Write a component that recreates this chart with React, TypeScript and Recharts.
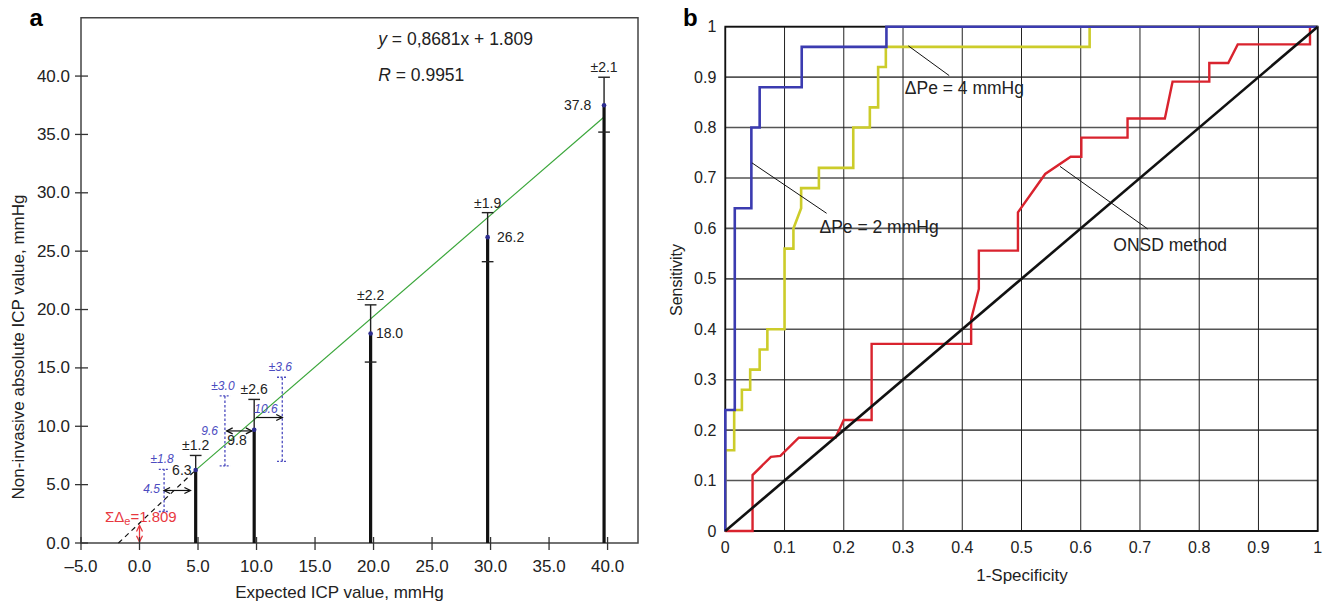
// Two-panel figure: (a) non-invasive vs expected ICP with error bars, (b) ROC curves.

import {
  ComposedChart,
  XAxis,
  YAxis,
  Line,
  Scatter,
  ReferenceArea,
  CartesianGrid,
} from 'recharts'

const FONT = '"Liberation Sans", Arial, Helvetica, sans-serif'

// ---------- panel a ----------
const xTicksA = [-5, 0, 5, 10, 15, 20, 25, 30, 35, 40]
const yTicksA = [0, 5, 10, 15, 20, 25, 30, 35, 40]

// measured ICP bars
const barX = [4.8, 9.8, 19.75, 29.75, 39.7]
const barMean = [6.25, 9.7, 17.95, 26.2, 37.5]
const barUpper = [7.5, 12.3, 20.4, 28.3, 39.9]
const barLower: (number | null)[] = [null, null, 15.5, 24.1, 35.2]
const barSdText = ['±1.2', '±2.6', '±2.2', '±1.9', '±2.1']
const barMeanText = ['6.3', '9.8', '18.0', '26.2', '37.8']
const barMeanTextX = [4.45, 8.33, 20.2, 30.55, 38.6]
const barMeanTextY = [6.25, 8.8, 17.95, 26.2, 37.5]

// estimated (blue dotted) bars
const estX = [2.1, 7.3, 12.2]
const estMean = [4.5, 9.6, 10.6]
const estSd = [1.8, 3.0, 3.6]
const estSdText = ['±1.8', '±3.0', '±3.6']
const estMeanText = ['4.5', '9.6', '10.6']
const estMeanTextX = [1.75, 6.7, 10.8]
const estMeanTextY = [4.6, 9.6, 11.5]

// horizontal shift arrows
const shiftFromX = [2.1, 7.45, 9.95]
const shiftToX = [4.35, 9.6, 12.2]
const shiftY = [4.5, 9.6, 10.75]
const shiftBothWays = [true, true, false]

// regression line and its dashed extension
const fitX = [4.75, 39.7]
const fitY = [6.2, 36.5]
const extX = [-1.8, 4.75]
const extY = [0, 6.2]
// red offset arrow at x = 0
const offsetY = [0.1, 1.5]

// ---------- panel b ----------
const rocTicks = [0, 0.1, 0.2, 0.3, 0.4, 0.5, 0.6, 0.7, 0.8, 0.9, 1]

const pe2X = [0, 0, 0.016, 0.016, 0.044, 0.044, 0.058, 0.058, 0.129, 0.129, 0.272, 0.272, 1]
const pe2Y = [0, 0.24, 0.24, 0.64, 0.64, 0.8, 0.8, 0.88, 0.88, 0.96, 0.96, 1, 1]

const pe4X = [
  0, 0, 0.015, 0.015, 0.028, 0.028, 0.042, 0.042, 0.058, 0.058, 0.071, 0.071, 0.1, 0.1, 0.115, 0.115,
  0.128, 0.128, 0.158, 0.158, 0.216, 0.216, 0.244, 0.244, 0.258, 0.258, 0.271, 0.271, 0.615, 0.615, 1,
]
const pe4Y = [
  0, 0.16, 0.16, 0.24, 0.24, 0.28, 0.28, 0.32, 0.32, 0.36, 0.36, 0.4, 0.4, 0.56, 0.56, 0.6,
  0.64, 0.68, 0.68, 0.72, 0.72, 0.8, 0.8, 0.84, 0.84, 0.92, 0.92, 0.96, 0.96, 1, 1,
]

const onsdX = [
  0, 0.046, 0.046, 0.077, 0.093, 0.124, 0.186, 0.2, 0.247, 0.247, 0.415, 0.415, 0.428, 0.428, 0.494,
  0.494, 0.54, 0.583, 0.601, 0.601, 0.679, 0.679, 0.742, 0.755, 0.817, 0.817, 0.849, 0.865, 0.987, 0.987,
]
const onsdY = [
  0, 0, 0.111, 0.147, 0.149, 0.185, 0.185, 0.22, 0.22, 0.371, 0.371, 0.42, 0.48, 0.556, 0.556,
  0.632, 0.708, 0.742, 0.742, 0.78, 0.78, 0.818, 0.818, 0.891, 0.891, 0.928, 0.928, 0.965, 0.965, 1,
]

const chanceX = [0, 1]
const chanceY = [0, 1]

const rocLabels = ['ΔPe = 4 mmHg', 'ΔPe = 2 mmHg', 'ONSD method']
const rocLabelX = [0.303, 0.159, 0.655]
const rocLabelY = [0.878, 0.602, 0.568]
const leaderX1 = [0.309, 0.045, 0.565]
const leaderY1 = [0.962, 0.73, 0.723]
const leaderX2 = [0.378, 0.171, 0.713]
const leaderY2 = [0.903, 0.63, 0.599]

// ---------- helpers ----------
type Pt = { x: number; y: number }
const seg = (x1: number, y1: number, x2: number, y2: number): Pt[] => [
  { x: x1, y: y1 },
  { x: x2, y: y2 },
]
const zip = (xs: number[], ys: number[]): Pt[] => xs.map((x, i) => ({ x, y: ys[i] }))

const segLine = (key: string, pts: Pt[], stroke: string, width: number, dash?: string) => (
  <Line
    key={key}
    data={pts}
    dataKey="y"
    type="linear"
    stroke={stroke}
    strokeWidth={width}
    strokeDasharray={dash}
    dot={false}
    activeDot={false}
    isAnimationActive={false}
    legendType="none"
  />
)

type TxtStyle = {
  anchor?: 'start' | 'middle' | 'end'
  dx?: number
  dy?: number
  size?: number
  color?: string
  italic?: boolean
}

const textMark = (key: string, x: number, y: number, text: string, s: TxtStyle) => (
  <Scatter
    key={key}
    data={[{ x, y }]}
    dataKey="y"
    isAnimationActive={false}
    legendType="none"
    shape={(p: any) => (
      <text
        x={p.cx + (s.dx ?? 0)}
        y={p.cy + (s.dy ?? 0)}
        textAnchor={s.anchor ?? 'middle'}
        dominantBaseline="central"
        fontSize={s.size ?? 14}
        fill={s.color ?? '#222'}
        fontStyle={s.italic ? 'italic' : 'normal'}
      >
        {text}
      </text>
    )}
  />
)

const arrowMark = (key: string, pts: Pt[], dir: 'left' | 'right' | 'up' | 'down', color: string) => (
  <Scatter
    key={key}
    data={pts}
    dataKey="y"
    isAnimationActive={false}
    legendType="none"
    shape={(p: any) => {
      const { cx, cy } = p
      const d =
        dir === 'right'
          ? `M${cx - 6},${cy - 3} L${cx},${cy} L${cx - 6},${cy + 3}`
          : dir === 'left'
            ? `M${cx + 6},${cy - 3} L${cx},${cy} L${cx + 6},${cy + 3}`
            : dir === 'up'
              ? `M${cx - 3},${cy + 6} L${cx},${cy} L${cx + 3},${cy + 6}`
              : `M${cx - 3},${cy - 6} L${cx},${cy} L${cx + 3},${cy - 6}`
      return <path d={d} fill="none" stroke={color} strokeWidth={1.3} />
    }}
  />
)

const fmtA = (v: number) => (v < 0 ? '–' + Math.abs(v).toFixed(1) : v.toFixed(1))
const fmtB = (v: number) => (v === 0 ? '0' : v === 1 ? '1' : v.toFixed(1))

const XTickA = (p: any) => (
  <g>
    <line x1={p.x} x2={p.x} y1={p.y - 6} y2={p.y + 7} stroke="#333" strokeWidth={1.3} />
    <text x={p.x} y={p.y + 23} textAnchor="middle" dominantBaseline="central" fontSize={17} fill="#222">
      {fmtA(p.payload.value)}
    </text>
  </g>
)
const YTickA = (p: any) => (
  <g>
    <line x1={p.x - 6} x2={p.x + 7} y1={p.y} y2={p.y} stroke="#333" strokeWidth={1.3} />
    <text x={p.x - 11} y={p.y} textAnchor="end" dominantBaseline="central" fontSize={17} fill="#222">
      {fmtA(p.payload.value)}
    </text>
  </g>
)
const XTickB = (p: any) => (
  <text x={p.x} y={p.y + 16} textAnchor="middle" dominantBaseline="central" fontSize={16} fill="#222">
    {fmtB(p.payload.value)}
  </text>
)
const YTickB = (p: any) => (
  <text x={p.x - 9} y={p.y} textAnchor="end" dominantBaseline="central" fontSize={16} fill="#222">
    {fmtB(p.payload.value)}
  </text>
)

const BLUE_EST = '#4b4bbf'
const RED = '#e8383f'

function PanelA() {
  const meanAnchor: ('start' | 'middle' | 'end')[] = ['end', 'middle', 'start', 'start', 'end']
  return (
    <ComposedChart width={660} height={602} margin={{ top: 17.7, right: 22, bottom: 29, left: 10 }}>
      <XAxis
        type="number"
        dataKey="x"
        domain={[-5, 42.6]}
        ticks={xTicksA}
        interval={0}
        axisLine={false}
        tickLine={false}
        tickSize={0}
        tickMargin={0}
        height={30}
        tick={(p: any) => <XTickA {...p} />}
      />
      <YAxis
        type="number"
        dataKey="y"
        domain={[0, 45]}
        ticks={yTicksA}
        interval={0}
        axisLine={false}
        tickLine={false}
        tickSize={0}
        tickMargin={0}
        width={71}
        tick={(p: any) => <YTickA {...p} />}
      />
      <ReferenceArea x1={-5} x2={42.6} y1={0} y2={45} fill="none" stroke="#444" strokeWidth={1.5} />

      {segLine('ext', zip(extX, extY), '#111', 1.2, '5 4')}
      {segLine('fit', zip(fitX, fitY), '#3aa63a', 1.2)}

      {barX.map((x, i) => segLine(`bar${i}`, seg(x, 0, x, barMean[i]), '#111', 3.2))}
      {barX.map((x, i) => segLine(`sd${i}`, seg(x, barMean[i], x, barUpper[i]), '#222', 1.4))}
      {barX.map((x, i) => segLine(`cap${i}`, seg(x - 0.5, barUpper[i], x + 0.5, barUpper[i]), '#222', 1.4))}
      {barX.map((x, i) => {
        const lo = barLower[i]
        return lo === null ? null : segLine(`lo${i}`, seg(x - 0.5, lo, x + 0.5, lo), '#222', 1.4)
      })}

      {estX.map((x, i) =>
        segLine(`est${i}`, seg(x, estMean[i] - estSd[i], x, estMean[i] + estSd[i]), BLUE_EST, 1.3, '2.5 2'),
      )}
      {estX.map((x, i) =>
        segLine(`estT${i}`, seg(x - 0.45, estMean[i] + estSd[i], x + 0.45, estMean[i] + estSd[i]), BLUE_EST, 1.3, '2 1.5'),
      )}
      {estX.map((x, i) =>
        segLine(`estB${i}`, seg(x - 0.45, estMean[i] - estSd[i], x + 0.45, estMean[i] - estSd[i]), BLUE_EST, 1.3, '2 1.5'),
      )}

      {shiftY.map((y, i) => segLine(`sh${i}`, seg(shiftFromX[i], y, shiftToX[i], y), '#111', 1.2))}
      {arrowMark('shR', zip(shiftToX, shiftY), 'right', '#111')}
      {arrowMark(
        'shL',
        zip(
          shiftFromX.filter((_, i) => shiftBothWays[i]),
          shiftY.filter((_, i) => shiftBothWays[i]),
        ),
        'left',
        '#111',
      )}

      {segLine('off', seg(0, offsetY[0], 0, offsetY[1]), RED, 1.3)}
      {arrowMark('offU', [{ x: 0, y: offsetY[1] }], 'up', RED)}
      {arrowMark('offD', [{ x: 0, y: offsetY[0] }], 'down', RED)}

      <Scatter
        data={zip(barX, barMean)}
        dataKey="y"
        isAnimationActive={false}
        legendType="none"
        shape={(p: any) => <circle cx={p.cx} cy={p.cy} r={2.3} fill="#2d2d8f" />}
      />

      {barX.map((x, i) => textMark(`sdt${i}`, x, barUpper[i], barSdText[i], { dy: -10, size: 14 }))}
      {barX.map((_, i) =>
        textMark(`mt${i}`, barMeanTextX[i], barMeanTextY[i], barMeanText[i], { anchor: meanAnchor[i], size: 14 }),
      )}
      {estX.map((x, i) =>
        textMark(`est${i}`, x, estMean[i] + estSd[i], estSdText[i], {
          dy: -10,
          dx: -2,
          size: 12,
          color: BLUE_EST,
          italic: true,
        }),
      )}
      {estX.map((_, i) =>
        textMark(`emt${i}`, estMeanTextX[i], estMeanTextY[i], estMeanText[i], {
          anchor: i === 2 ? 'middle' : 'end',
          size: 12,
          color: BLUE_EST,
          italic: true,
        }),
      )}

      <Scatter
        data={[{ x: 20.4, y: 42.7 }]}
        dataKey="y"
        isAnimationActive={false}
        legendType="none"
        shape={(p: any) => (
          <g fontSize={17.5} fill="#222">
            <text x={p.cx} y={p.cy}>
              <tspan fontStyle="italic">y</tspan> = 0,8681x + 1.809
            </text>
            <text x={p.cx} y={p.cy + 36.5}>
              <tspan fontStyle="italic">R</tspan> = 0.9951
            </text>
          </g>
        )}
      />
      <Scatter
        data={[{ x: -2.95, y: 2.28 }]}
        dataKey="y"
        isAnimationActive={false}
        legendType="none"
        shape={(p: any) => (
          <text x={p.cx} y={p.cy} dominantBaseline="central" fontSize={15} fill={RED}>
            ΣΔ
            <tspan fontSize={11} dy={5}>
              e
            </tspan>
            <tspan dy={-5}>=1.809</tspan>
          </text>
        )}
      />
    </ComposedChart>
  )
}

function PanelB() {
  return (
    <ComposedChart width={671} height={602} margin={{ top: 26.7, right: 13.3, bottom: 41, left: 25.3 }}>
      <XAxis
        type="number"
        dataKey="x"
        domain={[0, 1]}
        ticks={rocTicks}
        interval={0}
        axisLine={false}
        tickLine={false}
        tickSize={0}
        tickMargin={0}
        height={30}
        tick={(p: any) => <XTickB {...p} />}
      />
      <YAxis
        type="number"
        dataKey="y"
        domain={[0, 1]}
        ticks={rocTicks}
        interval={0}
        axisLine={false}
        tickLine={false}
        tickSize={0}
        tickMargin={0}
        width={40}
        tick={(p: any) => <YTickB {...p} />}
      />
      <CartesianGrid vertical={false} stroke="#555" strokeWidth={1.6} />
      <CartesianGrid horizontal={false} stroke="#222" strokeWidth={1} />
      <ReferenceArea x1={0} x2={1} y1={0} y2={1} fill="none" stroke="#111" strokeWidth={1.8} />

      {segLine('onsd', zip(onsdX, onsdY), '#d9232e', 2.4)}
      {segLine('pe4', zip(pe4X, pe4Y), '#cccc2a', 2.6)}
      {segLine('pe2', zip(pe2X, pe2Y), '#3b3bb0', 2.6)}
      {segLine('chance', zip(chanceX, chanceY), '#111', 2.6)}
      {rocLabels.map((_, i) =>
        segLine(`lead${i}`, seg(leaderX1[i], leaderY1[i], leaderX2[i], leaderY2[i]), '#111', 1),
      )}
      {rocLabels.map((t, i) => textMark(`rl${i}`, rocLabelX[i], rocLabelY[i], t, { anchor: 'start', size: 17.5 }))}
    </ComposedChart>
  )
}

const titleStyle = (left: number, top: number, size: number, rotate = false): React.CSSProperties => ({
  position: 'absolute',
  left,
  top,
  fontSize: size,
  lineHeight: 1,
  whiteSpace: 'nowrap',
  color: '#222',
  transform: rotate ? 'translate(-50%, -50%) rotate(-90deg)' : 'translate(-50%, -50%)',
})

export default function App() {
  return (
    <div
      style={{
        position: 'absolute',
        left: 0,
        top: 0,
        width: 1331,
        height: 602,
        background: '#fff',
        fontFamily: FONT,
        overflow: 'hidden',
      }}
    >
      <div style={{ position: 'absolute', left: 0, top: 0 }}>
        <PanelA />
      </div>
      <div style={{ position: 'absolute', left: 660, top: 0 }}>
        <PanelB />
      </div>
      <div style={{ position: 'absolute', left: 29.5, top: 6.4, fontSize: 24, lineHeight: 1, fontWeight: 700 }}>a</div>
      <div style={{ position: 'absolute', left: 683, top: 6.4, fontSize: 24, lineHeight: 1, fontWeight: 700 }}>b</div>
      <div style={titleStyle(339.5, 592, 17)}>Expected ICP value, mmHg</div>
      <div style={titleStyle(18, 346.5, 17, true)}>Non-invasive absolute ICP value, mmHg</div>
      <div style={titleStyle(1022, 575, 17)}>1-Specificity</div>
      <div style={titleStyle(677, 280, 16, true)}>Sensitivity</div>
    </div>
  )
}
